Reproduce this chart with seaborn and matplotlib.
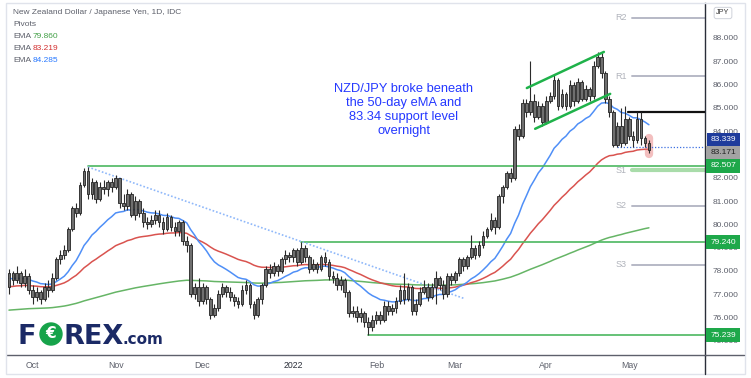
import numpy as np
import pandas as pd
import matplotlib
matplotlib.use('Agg')
import matplotlib.pyplot as plt
from matplotlib.patches import Circle, Rectangle
from matplotlib.lines import Line2D
import seaborn as sns

sns.set_theme(style='white')
plt.rcParams['font.family'] = ['Liberation Sans', 'DejaVu Sans']

# NZD/JPY daily candles, 23 Sep 2021 - 9 May 2022
first_open = 77.3
close = [
    77.9, 77.6, 77.9, 77.5, 77.8, 77.2, 76.9, 77.1, 76.8, 77.3,
    77.2, 77.7, 78.5, 78.7, 78.9, 79.8, 80.7, 80.5, 81.7, 82.3,
    81.3, 81.8, 81.1, 81.6, 81.5, 81.8, 81.6, 82.0, 80.9, 80.8,
    81.3, 80.4, 81.0, 80.5, 80.1, 80.0, 80.2, 80.4, 80.1, 79.8,
    80.3, 79.9, 79.7, 80.1, 79.3, 79.1, 77.0, 77.3, 76.7, 77.3,
    76.8, 76.1, 76.4, 77.0, 77.3, 77.1, 76.9, 76.7, 76.6, 77.2,
    77.4, 76.6, 76.1, 76.8, 77.4, 78.1, 77.9, 78.2, 78.0, 78.5,
    78.7, 78.6, 78.9, 78.4, 79.0, 78.6, 78.1, 78.3, 78.1, 78.6,
    78.4, 77.8, 77.7, 77.4, 77.6, 77.1, 76.2, 76.3, 76.0, 76.2,
    75.8, 75.6, 75.9, 76.1, 75.9, 76.5, 76.3, 76.4, 76.7, 77.2,
    76.8, 77.3, 76.3, 76.6, 77.1, 77.3, 76.9, 77.3, 77.7, 77.4,
    77.0, 77.8, 77.6, 77.9, 78.5, 78.2, 78.6, 79.0, 78.7, 79.1,
    79.5, 79.8, 80.2, 79.9, 81.2, 81.6, 82.2, 82.0, 84.1, 83.8,
    85.2, 84.8, 85.3, 84.6, 85.1, 84.4, 85.3, 85.5, 86.2, 85.1,
    85.6, 85.1, 86.0, 85.3, 86.1, 85.4, 85.8, 85.5, 86.8, 87.2,
    86.5, 85.4, 84.8, 83.4, 84.2, 83.5, 84.5, 83.8, 83.6, 84.5,
    83.7, 83.5, 83.171]
high = [
    78.1, 78.0, 78.2, 78.0, 78.1, 77.9, 77.4, 77.3, 77.2, 77.5,
    77.6, 77.9, 78.6, 78.9, 79.1, 79.9, 80.8, 80.9, 81.8, 82.4,
    82.46, 82.0, 81.9, 81.8, 81.9, 81.9, 82.0, 82.12, 82.0, 81.3,
    81.5, 81.4, 81.2, 81.1, 80.7, 80.3, 80.4, 80.6, 80.6, 80.3,
    80.5, 80.4, 80.1, 80.2, 80.2, 79.5, 79.2, 77.5, 77.7, 77.5,
    77.4, 76.9, 76.6, 77.2, 77.5, 77.4, 77.3, 77.0, 76.9, 77.4,
    77.6, 77.5, 76.7, 76.9, 77.5, 78.2, 78.3, 78.4, 78.3, 78.6,
    78.9, 78.8, 79.0, 79.0, 79.24, 79.1, 78.7, 78.5, 78.4, 78.7,
    78.8, 78.5, 78.0, 77.9, 77.8, 77.7, 77.2, 76.5, 76.5, 76.4,
    76.3, 76.0, 76.1, 76.3, 76.3, 76.7, 76.7, 76.6, 76.9, 77.4,
    77.9, 77.5, 77.4, 76.8, 77.3, 77.6, 77.5, 77.5, 78.0, 77.8,
    77.6, 77.9, 77.9, 78.0, 78.6, 78.6, 78.7, 79.55, 79.1, 79.3,
    79.7, 79.9, 80.5, 80.3, 81.3, 81.7, 82.3, 82.4, 84.2, 84.3,
    85.4, 85.4, 87.0, 85.6, 85.3, 85.2, 85.5, 85.7, 86.4, 86.3,
    85.8, 85.7, 86.2, 86.1, 86.3, 86.2, 86.0, 85.9, 87.0, 87.4,
    87.35, 86.6, 85.5, 84.9, 84.4, 85.0, 85.1, 84.6, 84.0, 84.8,
    84.8, 83.8, 83.6]
low = [
    77.0, 77.4, 77.5, 77.3, 77.3, 77.0, 76.6, 76.7, 76.6, 76.7,
    76.9, 77.1, 77.6, 78.3, 78.5, 78.8, 79.7, 80.3, 80.4, 81.6,
    81.1, 81.1, 80.9, 81.0, 81.3, 81.2, 81.4, 81.5, 80.7, 80.6,
    80.6, 80.3, 80.2, 80.3, 79.9, 79.8, 79.9, 80.0, 79.9, 79.6,
    79.7, 79.7, 79.5, 79.5, 79.1, 78.8, 76.9, 76.8, 76.5, 76.6,
    76.6, 75.95, 76.0, 76.3, 76.9, 76.9, 76.7, 76.5, 76.4, 76.5,
    77.0, 76.4, 75.95, 76.0, 76.6, 77.3, 77.7, 77.8, 77.8, 77.9,
    78.3, 78.4, 78.4, 78.2, 78.3, 78.4, 77.9, 78.0, 77.9, 78.0,
    78.2, 77.6, 77.5, 77.2, 77.2, 76.9, 76.0, 76.0, 75.8, 75.8,
    75.6, 75.24, 75.4, 75.7, 75.7, 75.8, 76.1, 76.1, 76.2, 76.6,
    76.6, 76.7, 76.1, 76.1, 76.5, 77.0, 76.7, 76.8, 76.6, 77.2,
    76.8, 76.9, 77.4, 77.5, 77.8, 78.0, 78.1, 78.5, 78.5, 78.6,
    79.0, 79.4, 79.7, 79.6, 79.8, 80.9, 81.5, 81.8, 81.9, 83.6,
    83.7, 84.6, 84.7, 84.4, 84.5, 84.2, 84.3, 85.2, 85.4, 84.9,
    85.0, 84.9, 85.0, 85.1, 85.2, 85.3, 85.3, 85.3, 85.4, 86.7,
    86.3, 85.2, 84.6, 83.3, 83.3, 83.3, 83.4, 83.6, 83.3, 83.5,
    83.4, 83.3, 83.05]

# EMA starting values at the left edge of the chart
ema_spans = [200, 50, 20]
ema_start = [76.3, 77.3, 77.65]
ema_colors = ['#66b566', '#d9534f', '#4f8ff7']
ema_last = ['79.860', '83.219', '84.285']
ema_text_colors = ['#43a047', '#d32f2f', '#2979ff']

# drawn levels: support/resistance lines (start bar, price)
level_start = [20, 74, 91]
level_price = [82.507, 79.240, 75.239]
support_start = 154
support_price = 83.339

# pivots for May
pivot_names = ['R2', 'R1', 'S1', 'S2', 'S3']
pivot_price = [88.86, 86.35, 82.33, 80.80, 78.26]
pivot_p = 84.82

# trendlines (bar, price)
trend_bars = [20, 115.5]
trend_price = [82.46, 76.8]
chan_up_bars = [131.1, 150.6]
chan_up_price = [85.85, 87.40]
chan_lo_bars = [133.2, 152.2]
chan_lo_price = [84.10, 85.60]

month_labels = ['Oct', 'Nov', 'Dec', '2022', 'Feb', 'Mar', 'Apr', 'May']
# axis prices hidden behind the tags in the reference
price_ticks = [75, 76, 77, 78, 79, 80, 81, 82, 84, 85, 86, 87, 88]

dates = pd.bdate_range('2021-09-23', '2022-05-09')[:len(close)]
idx = np.arange(len(close))
df = pd.DataFrame({'date': dates, 'close': close, 'high': high, 'low': low})
df['open'] = [first_open] + close[:-1]

W, H = 751, 378
fig = plt.figure(figsize=(W / 100, H / 100), dpi=100)
ax = fig.add_axes([7 / W, 23 / H, 698 / W, 352 / H])
ax.set_facecolor('white')

XMAX = 176.2
# EMAs
for span, seed, col in zip(ema_spans, ema_start, ema_colors):
    s = pd.Series([seed] + close).ewm(span=span, adjust=False).mean().iloc[1:].values
    sns.lineplot(x=idx, y=s, color=col, lw=1.1, ax=ax, zorder=2)

# candles
body_lo = np.minimum(df['open'], df['close'])
body_h = np.maximum(np.abs(df['close'] - df['open']), 0.04)
ax.vlines(idx, df['low'], df['high'], color='#2b2b2b', lw=0.8, zorder=4)
ax.bar(idx, body_h, bottom=body_lo, width=0.7, color='#6f6f6f',
       edgecolor='#222222', linewidth=0.6, zorder=5)
# highlight on last candle
ax.plot([idx[-1], idx[-1]], [83.02, 83.72], color='#e57373', lw=6, alpha=0.45,
        solid_capstyle='round', zorder=3)

# levels
for st, p in zip(level_start, level_price):
    ax.plot([st, XMAX], [p, p], color='#4cb860', lw=1.2, zorder=3)
ax.plot([support_start, XMAX], [support_price, support_price], color='#3b6fe0',
        lw=0.9, ls=(0, (1, 1.5)), zorder=3)

# pivots
PSTART = 157.6
for name, p in zip(pivot_names, pivot_price):
    if name == 'S1':
        ax.plot([PSTART, XMAX], [p, p], color='#a9dcaa', lw=3, zorder=2)
    else:
        ax.plot([PSTART, XMAX], [p, p], color='#b7b9c6', lw=1.4, zorder=2)
    ax.text(PSTART - 1.2, p, name, ha='right', va='center', fontsize=6.5,
            color='#b0b3bb')
ax.plot([PSTART - 1, XMAX], [pivot_p, pivot_p], color='#111111', lw=1.6, zorder=3)

# trendlines
ax.plot(trend_bars, trend_price, color='#8fb8fa', lw=1.2, ls=(0, (1, 1.2)), zorder=3)
ax.plot(chan_up_bars, chan_up_price, color='#1fb24a', lw=1.8, zorder=6)
ax.plot(chan_lo_bars, chan_lo_price, color='#1fb24a', lw=1.8, zorder=6)

ax.text(100, 84.9, 'NZD/JPY broke beneath\nthe 50-day eMA and\n83.34 support level\novernight',
        ha='center', va='center', fontsize=9.3, color='#2438ff', linespacing=1.2)

ax.set_xlim(-0.5, XMAX)
ax.set_ylim(74.39, 89.5)

# axes styling
for side in ['top', 'left']:
    ax.spines[side].set_visible(False)
ax.spines['right'].set_color('#2a2e39')
ax.spines['right'].set_linewidth(1)
ax.spines['bottom'].set_color('#5d606b')
ax.spines['bottom'].set_linewidth(1)
ax.yaxis.tick_right()
ax.set_yticks(price_ticks)
ax.set_yticklabels([f'{v:.3f}' for v in price_ticks])
month_pos = [i for i in range(len(dates)) if i == 0 or dates[i].month != dates[i - 1].month][1:]
ax.set_xticks(month_pos)
ax.set_xticklabels(month_labels)
ax.tick_params(axis='y', length=0, pad=5.8, labelsize=6, labelcolor='#5d606b')
ax.tick_params(axis='x', length=0, pad=4, labelsize=6.3, labelcolor='#5d606b')
for t in ax.get_xticklabels():
    if t.get_text() == '2022':
        t.set_color('#2a2e39')
ax.set_xlabel('')
ax.set_ylabel('')
ax.grid(False)

# price tags on the right axis
tag_price = [support_price, 83.171, 82.507, 79.240, 75.239]
tag_face = ['#1f3c9c', '#a3a3a3', '#1ea84a', '#1ea84a', '#1ea84a']
tag_text = ['white', '#222222', 'white', 'white', 'white']
tag_nudge = [4.8, -1.8, 0, 0, 0]
for p, fc, tc, dy in zip(tag_price, tag_face, tag_text, tag_nudge):
    ax.annotate(f'{p:.3f}', xy=(1, p), xycoords=('axes fraction', 'data'),
                xytext=(13, dy), textcoords='offset points', ha='center', va='center',
                fontsize=6, color=tc, annotation_clip=False, zorder=10,
                bbox=dict(boxstyle='square,pad=0.45', fc=fc, ec='none'))

fig.text(723 / W, 1 - 13 / H, 'JPY', ha='center', va='center', fontsize=5.2, color='#333333',
         bbox=dict(boxstyle='round,pad=0.3', fc='white', ec='#cfd2da', lw=0.7))

# legend text top left
fig.text(13 / W, 1 - 13 / H, 'New Zealand Dollar / Japanese Yen, 1D, IDC', fontsize=6,
         color='#5d606b', va='center')
fig.text(13 / W, 1 - 25 / H, 'Pivots', fontsize=6, color='#5d606b', va='center')
for k, (val, col) in enumerate(zip(ema_last, ema_text_colors)):
    yy = 1 - (37 + 12 * k) / H
    fig.text(13 / W, yy, 'EMA', fontsize=6, color='#5d606b', va='center')
    fig.text(33 / W, yy, val, fontsize=6, color=col, va='center')

# FOREX.com logo
navy = '#1b2a66'
fig.text(17 / W, 1 - 344 / H, 'F', fontsize=19.5, fontweight='heavy', color=navy,
         family='DejaVu Sans', va='baseline')
fig.add_artist(Circle((51, H - 334), 11, transform=None, color='#16a34a'))
fig.text(51 / W, 1 - 334 / H, '€', fontsize=11, fontweight='bold', color='white',
         family='DejaVu Sans', ha='center', va='center')
fig.text(63 / W, 1 - 344 / H, 'REX', fontsize=19.5, fontweight='heavy', color=navy,
         family='DejaVu Sans', va='baseline')
fig.text(123 / W, 1 - 344 / H, '.com', fontsize=11, fontweight='bold', color=navy,
         family='DejaVu Sans', va='baseline')

# outer frame and axis extensions
fig.add_artist(Rectangle((6, H - 374), 739, 371, transform=None, fill=False,
                         ec='#e0e3eb', lw=1))
fig.add_artist(Line2D([705, 705], [H - 355, H - 374], transform=None, color='#2a2e39', lw=1))
fig.add_artist(Line2D([705, 744], [H - 355, H - 355], transform=None, color='#5d606b', lw=1))

fig.savefig('out.png', dpi=100)
